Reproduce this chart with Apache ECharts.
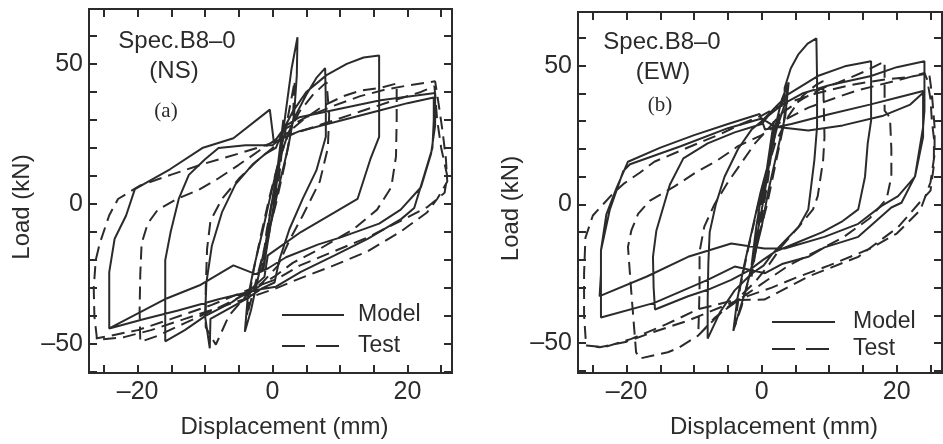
<!DOCTYPE html>
<html><head><meta charset="utf-8">
<script src="https://cdn.jsdelivr.net/npm/echarts@6/dist/echarts.min.js"></script>
<style>html,body{margin:0;padding:0;background:#fff}#c{width:943px;height:444px}</style>
</head><body><div id="c"></div>
<script>
const xTicks = [-25,-20,-15,-10,-5,0,5,10,15,20,25];
const xLabels = [-20,0,20];
const yTicks = [-60,-50,-40,-30,-20,-10,0,10,20,30,40,50,60];
const yLabels = [-50,0,50];
const seriesNames = ['Model','Test'];

const nsModel = [
 [0,0],[0.6,10],[1.2,22],[1.6,30],[1.0,14],[0.2,0],[-0.6,-12],[-1.4,-24],[-0.8,-10],[0,2],
 [0.8,12],[1.8,30],[2.8,48],[3.7,59.5],[3.6,46],[3.2,32],[2.3,20],[1.2,9],[0,-4],[-1.1,-15],[-2.2,-27],[-3.2,-38],[-4.1,-45.6],[-3.7,-34],[-2.7,-22],[-1.5,-10],[-0.3,3],[0.8,14],
 [2,23],[3.5,32],[5,39],[6.5,45],[7.8,48.5],[7.9,36],[7.9,24],[6.5,12],[4.5,2],[2.5,-9],[1,-20],[0.3,-28],
 [-1.5,-30],[-4,-34],[-7,-38],[-9.2,-41],[-9.3,-51.5],[-10,-40],[-9.8,-28],[-9,-15],[-7.5,-3],[-5.5,7],[-3,14],[-1,18],[0.5,20],
 [1.5,26],[3,33],[5,40],[8,46],[11,50],[13.5,52.3],[15.8,53],[15.8,40],[15.8,24],[14.5,16],[12.6,1.8],[9.2,-3],[4.2,-10],[-0.7,-18.3],[-1.2,-26],
 [-3,-30],[-6,-35],[-10,-40],[-13,-45],[-15.9,-49],[-15.9,-35],[-15.9,-20],[-15.1,-10],[-13.9,1.8],[-12.4,10.4],[-10,16],[-8,20],[-4,21],[0,21],
 [1,23],[4,26],[8,28.5],[12,31],[16,33.5],[20,36],[23.9,38],[23.9,30],[23.7,20],[22.5,10.4],[21,-1.4],[19.1,-5.3],[14.1,-12.4],[9.2,-18.3],[4.2,-24.2],[0.5,-29.5],
 [-2,-30.5],[-8,-34],[-14,-38],[-19,-41],[-24.2,-44.4],[-24.2,-34],[-24.2,-24.3],[-23.4,-12.4],[-21.7,-4.1],[-20.4,5.3],[-15.2,12.4],[-10.3,20.1],[-5.8,23.5],[-0.4,33.7],[0.2,22],
 [2,28],[4,31],[10,34],[16,37],[24.1,39.6],[24.1,28],[23.5,18],[22,6],[19,-2],[15.8,-7],[10,-12],[6.8,-14.4],[2,-19],[-0.7,-23],
 [-2.5,-25],[-5.8,-21.9],[-10.8,-29],[-15.7,-33.7],[-24.2,-44.4]
];

const nsTest = [
 [0,0],[0.8,12],[1.6,24],[1.0,10],[0.2,-2],[-0.8,-14],[-1.6,-24],[-0.9,-10],[0,2],
 [1,14],[2.2,30],[3.3,44],[3,30],[1.8,14],[0.5,0],[-1,-14],[-2.5,-28],[-3.8,-40],[-3,-26],[-1.8,-12],[-0.5,2],[1,16],
 [2.5,26],[4,33],[6,39],[8,43.5],[8.4,32],[8.2,20],[7,8],[4.5,-4],[2.5,-13],[0.8,-22],[-1.5,-28],[-4,-33],[-6.5,-40],[-8.4,-50.2],[-9.9,-44],[-9.9,-30],[-9.7,-16],[-9.2,-6],[-7.5,1.8],[-5,9],[-2.5,15],[0,20],
 [2,25],[4.5,30],[7.5,35],[10.5,38.5],[13.1,40.5],[16,41.5],[18.4,43],[18.4,30],[18.3,17],[17.6,6],[15.5,-2],[12,-9],[7,-16],[3,-21],[0.5,-25.5],[-3,-31],[-8,-37],[-13,-42.5],[-17,-47],[-19.6,-49.2],[-19.7,-38],[-19.6,-25],[-19.4,-14],[-18.5,-7],[-17,-2],[-14,2],[-10.9,5.1],[-8,9.2],[-5,14],[-2,19],[0.5,23],
 [2,27],[5,31],[9,35],[13,38.5],[17,41],[20.5,42.5],[24.1,43.8],[24.6,36],[25.2,26],[25.7,16],[25.9,8],[24.4,1.8],[22.9,-3],[18.9,-10],[14,-17],[9,-22],[4,-26.6],[0.6,-30],[-3,-33],[-8,-37],[-13,-41],[-18,-45],[-22,-47.5],[-26,-48.5],[-26.4,-40],[-26.5,-30],[-26.2,-20],[-25.6,-14],[-24.2,-4],[-22.9,1.8],[-19.7,6.5],[-15,10.5],[-10,14.5],[-5,18],[-1,21],
 [3,25],[8,29],[13,33],[18,37],[22,40],[24,42],[24.4,30],[25,20],[25.9,10],[25.5,4],[23,-1],[19,-6],[14,-12],[9,-17],[4,-22],[0.8,-26.6],[-3,-30],[-9,-36],[-15,-41],[-20,-45],[-24,-47],[-26.2,-48]
];

const ewModel = [
 [0,0],[0.6,10],[1.2,20],[1.8,30],[1.2,16],[0.3,2],[-0.6,-10],[-1.5,-22],[-0.8,-8],[0,4],
 [1,14],[2,28],[3,38],[4,44],[3.5,32],[2.2,18],[1,5],[0,-8],[-1.2,-20],[-2.5,-32],[-3.5,-40],[-4.2,-45.6],[-3.6,-34],[-2.6,-22],[-1.4,-9],[-0.2,4],[1,15],
 [2.2,27],[3.4,36],[3.4,42.1],[4.3,49],[5.4,54],[6.8,58],[8.1,59.9],[8.2,45],[8.2,28],[7.8,16],[6.9,-1.8],[5.5,-8],[3.5,-13],[1.5,-18],[0.3,-22],[-1.5,-25],[-4,-31],[-6.2,-39],[-8,-48.4],[-8,-35],[-7.9,-21.3],[-7.7,-10],[-6.8,0],[-5.5,10],[-3.5,20],[-1.5,27],[0,30],
 [2,35],[3.9,39.7],[8.3,46.3],[12.3,49.8],[16.2,51.6],[16.2,42],[16.2,30.2],[15.7,22],[15.3,10],[14.3,-1.8],[12,-6],[9,-10],[5,-14],[2,-17],[0.2,-20],[-2,-24],[-4.5,-27.2],[-8,-30.8],[-10.9,-33.1],[-15.8,-37.9],[-16,-30],[-16.1,-18.9],[-15.6,-9.5],[-13.6,7.1],[-11.6,16.6],[-8,22],[-4,26],[0,29],
 [1,32],[3,36],[6,40],[10,43],[16.2,46.3],[20,49.5],[24.1,51.6],[24.1,42],[24.1,33.8],[23.9,27.9],[22.7,10.1],[20.7,0.6],[19.2,-1.1],[14.3,-11.7],[9.3,-15.5],[6.9,-18.9],[3,-21.5],[0.5,-24.8],[-4,-22.4],[-8,-27.2],[-15.9,-35.5],[-23.8,-40.8],[-23.8,-30],[-23.8,-16.6],[-23,-3.6],[-21.5,5.9],[-19.8,15.4],[-15,20.5],[-10,25],[-5,29],[-0.3,32.6],[0.5,27],
 [4.4,29],[10,32.5],[16,36],[20,38.5],[23.9,40.9],[23.9,32],[23.9,24.3],[22.7,10],[20.2,3],[17.7,-0.6],[14.3,-7],[9.3,-11.7],[3.4,-15.9],[0.4,-15.9],[-4.5,-14.1],[-10.9,-18.9],[-17,-26],[-24,-33.1],[-23.8,-25],[-23.8,-16.6],[-22.5,-2],[-20.5,12],[-19.5,14.5],[-12,21],[-5,27.5],[0,31],
 [2,28],[6.9,26.7],[12,28.5],[18,32],[22,36],[23.9,40.3]
];

const ewTest = [
 [0,0],[0.8,12],[1.6,24],[1,10],[0.2,-2],[-0.7,-14],[-1.5,-26],[-0.8,-12],[0,2],
 [1,12],[2,26],[3,36],[3.8,42],[3.2,28],[2,14],[0.8,0],[-0.5,-12],[-1.8,-26],[-3,-37],[-4,-44],[-3.2,-30],[-2,-16],[-0.8,-3],[0.5,10],
 [2,22],[4,32],[6,39],[8,43],[9.1,44.5],[9.2,35],[9.3,24.3],[9.1,16],[8.3,3],[7.6,-1.8],[5.5,-8],[3,-15],[1,-22],[-1,-28],[-4,-35],[-7,-41],[-9.4,-47.3],[-9.3,-40],[-9.2,-30],[-9.2,-17],[-8.5,-8],[-7,0],[-5,8],[-3,15],[-1,22],[0.5,26],
 [3,33],[6,38],[9,42],[11.3,43.9],[15.3,48],[18.2,51.6],[18.2,42],[18.2,33.8],[19,31.4],[19.2,20],[19.2,10],[18.5,2],[16,-5],[12,-12],[8,-17],[4,-22],[1,-27],[-2,-32],[-6,-39],[-9.4,-47.3],[-12.5,-52],[-13.9,-53.3],[-18.1,-55.6],[-18.6,-53.3],[-19.3,-31.9],[-19.8,-15.3],[-19.3,-9.4],[-18.3,-3.4],[-16.6,1.3],[-12.9,6.5],[-9.9,11.3],[-6.5,16],[-3.5,21],[0,25],
 [3,30],[7,35],[11,38.5],[14,41],[17.7,43.3],[20.7,45.1],[24.1,47.4],[24.5,45],[25,38],[25.2,30],[25.5,24],[25.5,14.2],[25,5],[23.6,1.3],[20.2,-8.2],[14.3,-18.9],[6.9,-26],[0.4,-34.3],[-4,-34.5],[-9.4,-37.8],[-14.1,-43.2],[-19.3,-48.5],[-23.3,-51.5],[-26,-50.9],[-26.3,-40],[-26.3,-25],[-26.1,-12],[-25,-4],[-23.5,0],[-22,4],[-20.3,7.7],[-18,11.5],[-15.9,15.4],[-12.4,19],[-8.4,23.1],[-6,25.5],[-3,29],[0,32],
 [3,36],[8,40],[13,43],[18,45],[22,46],[24.8,47.3],[25.2,40],[25.6,28],[25.6,18],[25,8],[23.5,-2],[20,-10.5],[16,-16],[10,-22],[5,-26.5],[1.5,-30],[-2,-33],[-6,-37],[-11,-42],[-16,-46],[-20,-49.5],[-24,-51.5],[-26,-50.9]
];

const INK = '#2b2b2b';
const FONT = '"Liberation Sans", Arial, sans-serif';
const DASH = [13, 7];
const fmt = v => v < 0 ? '\u2013' + Math.abs(v) : String(v);

function xAxes(gi, min, max) {
  return [{
    type: 'value', gridIndex: gi, min: min, max: max, position: 'bottom',
    axisLine: {show: false, onZero: false},
    axisTick: {show: true, inside: true, length: 8, lineStyle: {color: INK, width: 2}, customValues: xTicks},
    axisLabel: {customValues: xLabels, formatter: fmt, fontSize: 25, fontFamily: FONT, color: INK, margin: 7},
    splitLine: {show: false},
    name: 'Displacement (mm)', nameLocation: 'middle', nameGap: 42,
    nameTextStyle: {fontSize: 24, fontFamily: FONT, color: INK, padding: [0, 0, 0, 28]}
  }, {
    type: 'value', gridIndex: gi, min: min, max: max, position: 'top',
    axisLine: {show: false, onZero: false},
    axisTick: {show: true, inside: true, length: 8, lineStyle: {color: INK, width: 2}, customValues: xTicks},
    axisLabel: {show: false}, splitLine: {show: false}
  }];
}
function yAxes(gi, min, max) {
  return [{
    type: 'value', gridIndex: gi, min: min, max: max, position: 'left',
    axisLine: {show: false, onZero: false},
    axisTick: {show: true, inside: true, length: 8, lineStyle: {color: INK, width: 2}, customValues: yTicks},
    axisLabel: {customValues: yLabels, formatter: fmt, fontSize: 25, fontFamily: FONT, color: INK, margin: 6},
    splitLine: {show: false},
    name: 'Load (kN)', nameLocation: 'middle', nameGap: 55,
    nameTextStyle: {fontSize: 24, fontFamily: FONT, color: INK, padding: [0, 32, 0, 0]}
  }, {
    type: 'value', gridIndex: gi, min: min, max: max, position: 'right',
    axisLine: {show: false, onZero: false},
    axisTick: {show: true, inside: true, length: 8, lineStyle: {color: INK, width: 2}, customValues: yTicks},
    axisLabel: {show: false}, splitLine: {show: false}
  }];
}
function line(name, data, xi, yi, dashed) {
  return {
    name: name, type: 'line', data: data, xAxisIndex: xi, yAxisIndex: yi,
    symbol: 'none', showSymbol: false, clip: true, smooth: false,
    lineStyle: {color: INK, width: 2, type: dashed ? DASH : 'solid'},
    itemStyle: {color: INK}
  };
}
function txt(text, x, y, size, family, align) {
  return {type: 'text', x: x, y: y, style: {text: text, fill: INK, font: size + 'px ' + family, textAlign: align || 'center', textVerticalAlign: 'middle'}};
}
function key(x1, x2, y, dash, label, tx) {
  return [
    {type: 'line', shape: {x1: x1, y1: y, x2: x2, y2: y}, style: {stroke: INK, lineWidth: 2, lineDash: dash}},
    txt(label, tx, y, 23, FONT, 'left')
  ];
}

const chart = echarts.init(document.getElementById('c'), null, {renderer: 'canvas'});
chart.setOption({
  animation: false,
  backgroundColor: '#fff',
  grid: [
    {left: 89, top: 9, width: 363, height: 366, show: true, borderColor: INK, borderWidth: 2},
    {left: 578, top: 12, width: 364, height: 366, show: true, borderColor: INK, borderWidth: 2}
  ],
  xAxis: [].concat(xAxes(0, -27.2, 26.6), xAxes(1, -27.2, 26.7)),
  yAxis: [].concat(yAxes(0, -60.3, 69.6), yAxes(1, -60.8, 69.4)),
  series: [
    line(seriesNames[0], nsModel, 0, 0, false),
    line(seriesNames[1], nsTest, 0, 0, true),
    line(seriesNames[0], ewModel, 2, 2, false),
    line(seriesNames[1], ewTest, 2, 2, true)
  ],
  graphic: [].concat(
    [
      txt('Spec.B8\u20130', 177, 41, 24, FONT),
      txt('(NS)', 174, 71, 24, FONT),
      txt('(a)', 166, 111, 21, '"Liberation Serif", serif'),
      txt('Spec.B8\u20130', 662, 42, 24, FONT),
      txt('(EW)', 663, 72, 24, FONT),
      txt('(b)', 660, 105, 21, '"Liberation Serif", serif')
    ],
    key(282, 344, 315, null, seriesNames[0], 358),
    key(282, 344, 346, [23, 11], seriesNames[1], 358),
    key(772, 835, 322, null, seriesNames[0], 853),
    key(772, 835, 349, [23, 11], seriesNames[1], 853)
  )
});
</script></body></html>
